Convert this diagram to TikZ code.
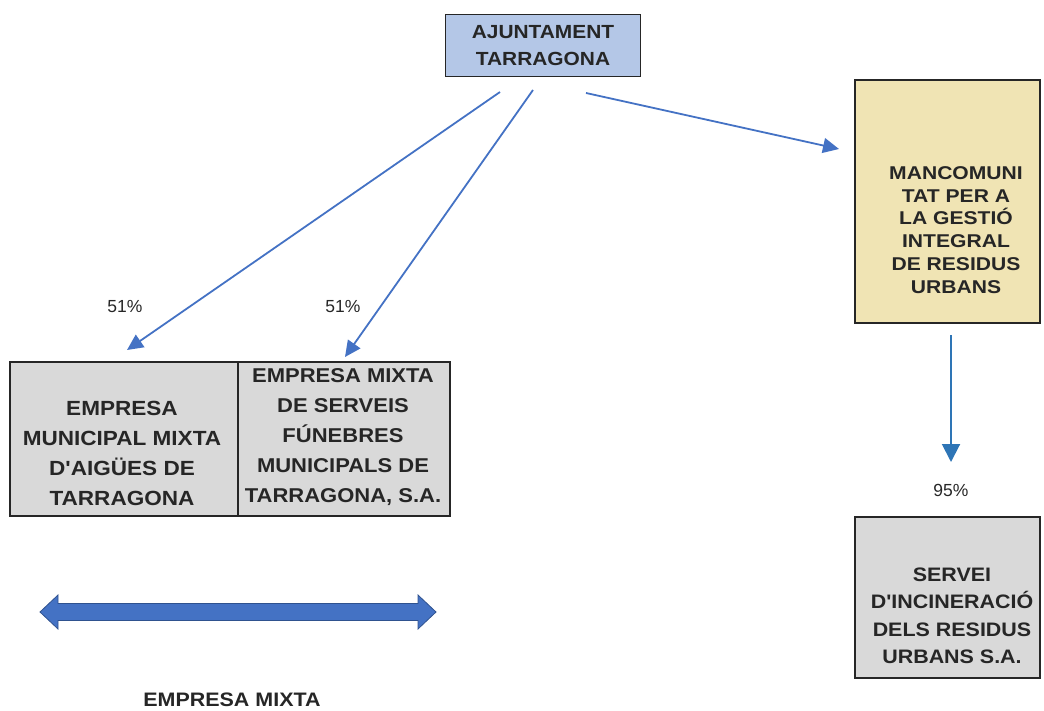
\documentclass[tikz,border=0pt]{standalone}
\usepackage{fontspec}
\setmainfont{Liberation Sans}
\newfontfamily\boldwide[FakeStretch=1.1]{Liberation Sans Bold}
\newfontfamily\boldwider[FakeStretch=1.14]{Liberation Sans Bold}
\usetikzlibrary{arrows.meta}
\definecolor{txt}{HTML}{262626}
\definecolor{bluefill}{HTML}{B4C7E7}
\definecolor{yellowfill}{HTML}{F0E4B4}
\definecolor{grayfill}{HTML}{D9D9D9}
\definecolor{arrowblue}{HTML}{4472C4}
\definecolor{vblue}{HTML}{2E75B6}
\definecolor{edgeblue}{HTML}{2F528F}
\tikzset{
  x=1pt, y=-1pt,
  boxstyle/.style={draw=black!85, line width=1.5pt, inner sep=0pt},
  boxtext/.style={align=center, text=txt, inner sep=0pt},
  linkarrow/.style={draw=arrowblue, line width=1.8pt, -{Triangle[length=16pt,width=15pt]}},
  vlink/.style={draw=vblue, line width=2pt, -{Triangle[length=18pt,width=18pt]}},
  pct/.style={font=\fontsize{17.5}{20}\selectfont, text=txt}
}
\begin{document}
\begin{tikzpicture}
\useasboundingbox (0,0) rectangle (1044,711);
% boxes
\node[boxstyle, fill=bluefill, minimum width=195pt, minimum height=62pt] (aj) at (543,45.5) {};
\node[boxtext, font=\boldwide\fontsize{19}{27}\selectfont] (ajt) at (aj) {AJUNTAMENT\\TARRAGONA};
\node[boxstyle, fill=yellowfill, minimum width=185pt, minimum height=243pt] (manc) at (947.5,201.5) {};
\node[boxtext, font=\boldwider\fontsize{18.5}{22.8}\selectfont] (manct) at (956,230)
  {MANCOMUNI\\TAT PER A\\LA GESTIÓ\\INTEGRAL\\DE RESIDUS\\URBANS};
\node[boxstyle, fill=grayfill, minimum width=228pt, minimum height=154pt] (aig) at (124,439) {};
\node[boxtext, font=\boldwide\fontsize{20.5}{30}\selectfont] (aigt) at (122,453)
  {EMPRESA\\MUNICIPAL MIXTA\\D'AIGÜES DE\\TARRAGONA};
\node[boxstyle, fill=grayfill, minimum width=212pt, minimum height=154pt] (fun) at (344,439) {};
\node[boxtext, font=\boldwide\fontsize{20}{30}\selectfont] (funt) at (343,437)
  {EMPRESA MIXTA\\DE SERVEIS\\FÚNEBRES\\MUNICIPALS DE\\TARRAGONA, S.A.};
\node[boxstyle, fill=grayfill, minimum width=185pt, minimum height=161pt] (serv) at (947.5,597.5) {};
\node[boxtext, font=\boldwide\fontsize{19.5}{27.5}\selectfont] (servt) at (952,616)
  {SERVEI\\D'INCINERACIÓ\\DELS RESIDUS\\URBANS S.A.};
% labels
\node[pct] (p1) at (125,307) {51\%};
\node[pct] (p2) at (343,307) {51\%};
\node[pct] (p3) at (951,490) {95\%};
\node[font=\boldwide\fontsize{19.5}{22}\selectfont, text=txt] (mixta) at (232,700) {EMPRESA MIXTA};
% connector end points
\coordinate (s1) at (500,92);
\coordinate (t1) at (127,350);
\coordinate (s2) at (533,90);
\coordinate (t2) at (345,357);
\coordinate (s3) at (586,93);
\coordinate (t3) at (839,149);
\coordinate (s4) at (951,335);
\coordinate (t4) at (951,462);
\draw[linkarrow] (s1) -- (t1);
\draw[linkarrow] (s2) -- (t2);
\draw[linkarrow] (s3) -- (t3);
\draw[vlink] (s4) -- (t4);
% double arrow
\coordinate (dl) at (40,612);
\coordinate (dr) at (436,612);
\fill[arrowblue, draw=edgeblue, line width=0.8pt]
  (dl) -- (58,595) -- (58,603.5) -- (418,603.5) -- (418,595) -- (dr)
  -- (418,629) -- (418,620.5) -- (58,620.5) -- (58,629) -- cycle;
\end{tikzpicture}
\end{document}
